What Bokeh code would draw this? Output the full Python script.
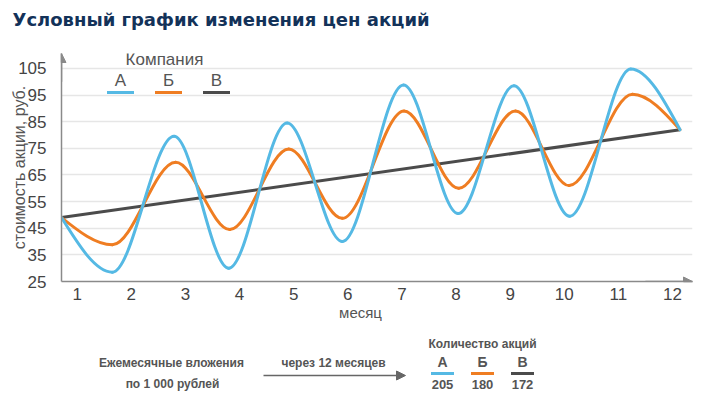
from bokeh.plotting import figure
from bokeh.layouts import column
from bokeh.models import (Label, Arrow, NormalHead, FixedTicker, ColumnDataSource,
                          Range1d, Title)
from bokeh.core.properties import value
from bokeh.embed import file_html
from bokeh.resources import INLINE

# ---------------- data ----------------
# turning points of each price curve: month position and price, rub.
months_a = [0.71, 1.65, 2.79, 3.80, 4.88, 5.90, 7.03, 8.04, 9.07, 10.10, 11.23, 12.14]
price_a = [49, 28.5, 79.5, 30, 84.5, 40, 98.8, 50.5, 98.5, 49.5, 104.8, 82]

months_b = [0.71, 1.65, 2.82, 3.82, 4.91, 5.90, 7.04, 8.05, 9.10, 10.09, 11.26, 12.14]
price_b = [49, 38.8, 69.8, 44.5, 74.7, 48.7, 89, 60, 89, 61, 95.3, 82]

months_c = [0.71, 12.14]
price_c = [49, 82]

month_ticks = list(range(1, 13))
price_ticks = [25, 35, 45, 55, 65, 75, 85, 95, 105]

companies = ["А", "Б", "В"]
shares_after_12 = ["205", "180", "172"]

title_text = "Условный график изменения цен акций"
y_label = "стоимость акции, руб."
x_label = "месяц"
legend_title = "Компания"
invest_lines = ["Ежемесячные вложения", "по 1 000 рублей"]
arrow_text = "через 12 месяцев"
count_title = "Количество акций"

# ---------------- styles ----------------
COL = ["#55b9e4", "#ef7d22", "#4b4b4b"]
AXIS = "#8a8a8a"
GRID = "#e6e6e6"
TXT = "#555555"
TITLE = "#133259"
FONT = "Liberation Sans"

W = 708
MAIN_H = 302         # page 0..302
FOOT_H = 96          # page 302..398
FRAME_LEFT, FRAME_RIGHT, FRAME_TOP, FRAME_BOTTOM = 61, 692, 53, 282   # page px

def sx(px):
    return px - FRAME_LEFT

def sy(py):
    return FRAME_BOTTOM - py

# ---------------- main chart ----------------
p = figure(width=W, height=MAIN_H, output_backend="svg", toolbar_location=None,
           x_range=Range1d(0.71, 12.37), y_range=Range1d(25, 110.6),
           min_border_left=FRAME_LEFT, min_border_right=W - FRAME_RIGHT,
           min_border_top=FRAME_TOP, min_border_bottom=MAIN_H - FRAME_BOTTOM)
p.outline_line_color = None

# real title (outermost), with an empty spacer title next to the frame
p.title.text = title_text
p.title.align = "left"
p.title.offset = 12 - FRAME_LEFT
p.title.standoff = 10
p.title.text_font = "DejaVu Sans"
p.title.text_font_size = "18px"
p.title.text_font_style = "bold"
p.title.text_color = TITLE
p.add_layout(Title(text=" ", text_font_size="10px", standoff=6), "above")

for ax in (p.xaxis[0], p.yaxis[0]):
    ax.axis_line_color = AXIS
    ax.axis_line_width = 1.5
    ax.major_tick_line_color = None
    ax.minor_tick_line_color = None
    ax.major_label_text_font = FONT
    ax.major_label_text_font_size = "17px"
    ax.major_label_text_color = "#444444"
p.xaxis.ticker = FixedTicker(ticks=month_ticks)
p.yaxis.ticker = FixedTicker(ticks=price_ticks)
p.xaxis.major_label_standoff = 0
p.yaxis.major_label_standoff = 9
p.yaxis.axis_label = y_label
p.yaxis.axis_label_text_font = FONT
p.yaxis.axis_label_text_font_size = "16px"
p.yaxis.axis_label_text_font_style = "normal"
p.yaxis.axis_label_text_color = TXT
p.yaxis.axis_label_standoff = -13

p.xgrid.grid_line_color = None
p.ygrid.grid_line_color = GRID
p.ygrid.grid_line_width = 1.5

# axis arrow heads
ah = dict(size=9, fill_color=AXIS, line_color=AXIS, line_width=1)
p.add_layout(Arrow(end=NormalHead(**ah), x_start=months_c[0], y_start=100,
                   x_end=months_c[0], y_end=110.6, line_color=AXIS, line_width=1.5))
p.add_layout(Arrow(end=NormalHead(**ah), x_start=11.5, y_start=price_ticks[0],
                   x_end=12.37, y_end=price_ticks[0], line_color=AXIS, line_width=1.5))

# curves: cubic beziers between the turning points
def bezier_source(xs, ys, k=0.5):
    d = dict(x0=[], y0=[], x1=[], y1=[], cx0=[], cy0=[], cx1=[], cy1=[])
    n = len(xs)
    for i in range(n - 1):
        x0, y0, x1, y1 = xs[i], ys[i], xs[i + 1], ys[i + 1]
        dx = x1 - x0
        cx0, cx1 = x0 + dx / 3, x1 - dx / 3
        cy0, cy1 = y0, y1
        if i == 0:               # curve starts on a flank
            cy0 = y0 + k * (y1 - y0)
        if i == n - 2:           # curve ends on a flank
            cy1 = y1 - k * (y1 - y0)
        for key, v in zip(d, (x0, y0, x1, y1, cx0, cy0, cx1, cy1)):
            d[key].append(v)
    return ColumnDataSource(d)

p.line(months_c, price_c, line_color=COL[2], line_width=3)
for xs, ys, c in ((months_b, price_b, COL[1]), (months_a, price_a, COL[0])):
    p.bezier(x0="x0", y0="y0", x1="x1", y1="y1", cx0="cx0", cy0="cy0",
             cx1="cx1", cy1="cy1", source=bezier_source(xs, ys),
             line_color=c, line_width=3, line_cap="round")

# legend inside the frame
def label(text, px, py, size):
    p.add_layout(Label(x=sx(px), y=sy(py), x_units="screen", y_units="screen",
                       text=text, text_font=FONT, text_font_size=size,
                       text_color=TXT, text_align="center", text_baseline="middle"))

def hline(px0, px1, py, color, width=3):
    p.add_layout(Arrow(x_start=sx(px0), y_start=sy(py), x_end=sx(px1), y_end=sy(py),
                       start_units="screen", end_units="screen", end=None,
                       line_color=color, line_width=width))

label(legend_title, 164, 60, "17px")
leg_x = [120, 168, 216]
for name, cx, c in zip(companies, leg_x, COL):
    label(name, cx, 81, "17px")
    hline(cx - 13.5, cx + 13.5, 93, c)

# ---------------- footer (page-pixel coordinates) ----------------
top = MAIN_H
foot = figure(width=W, height=FOOT_H, output_backend="svg", toolbar_location=None,
              x_range=Range1d(FRAME_LEFT, FRAME_RIGHT), y_range=Range1d(top + FOOT_H, top),
              x_axis_location=None, y_axis_location=None,
              min_border_left=FRAME_LEFT, min_border_right=W - FRAME_RIGHT,
              min_border_top=0, min_border_bottom=0)
foot.outline_line_color = None
foot.grid.grid_line_color = None

def ftext(texts, xs, ys, size, bold=True, color=TXT):
    foot.text(x=xs, y=ys, text=texts, text_font=value(FONT),
              text_font_size=size, text_font_style="bold" if bold else "normal",
              text_color=color, text_align="center", text_baseline="middle")

ftext([x_label], [360], [312], "15px", bold=False)
ftext(invest_lines, [171, 172], [362, 383], "12px")
ftext([arrow_text], [333], [362], "12px")
foot.add_layout(Arrow(x_start=263, y_start=375, x_end=405, y_end=375,
                      end=NormalHead(size=9, fill_color="#666666", line_color="#666666"),
                      line_color="#666666", line_width=1.5))
ftext([count_title], [482], [343], "12px")
cnt_x = [442, 482, 522]
ftext(companies, cnt_x, [361] * 3, "14px")
ftext(shares_after_12, cnt_x, [384] * 3, "13px")
foot.segment(x0=[x - 11.5 for x in cnt_x], x1=[x + 11.5 for x in cnt_x],
             y0=[373] * 3, y1=[373] * 3, line_color=COL, line_width=3)

layout = column(p, foot, spacing=0)
open("out.html", "w").write(file_html(layout, INLINE))
